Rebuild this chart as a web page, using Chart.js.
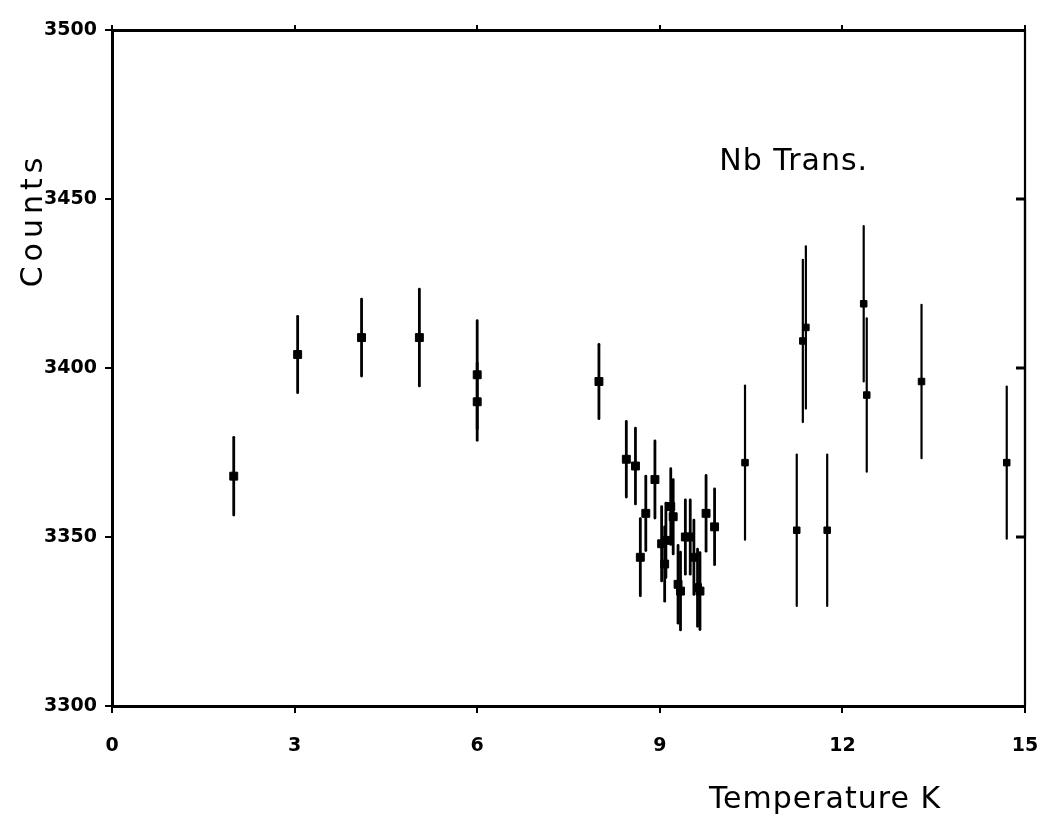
<!DOCTYPE html>
<html>
<head>
<meta charset="utf-8">
<script src="https://cdn.jsdelivr.net/npm/chart.js@4.4.1/dist/chart.umd.min.js"></script>
<style>
  html, body { margin: 0; background: #fff; }
  canvas { display: block; }
</style>
</head>
<body>
<canvas id="chart" width="1043" height="820"></canvas>
<script>
// ─── Data ────────────────────────────────────────────────
const temps  = [2.0, 3.05, 4.1, 5.05, 6.0, 6.0, 8.0, 8.45, 8.6, 8.68, 8.77, 8.92, 9.03, 9.08, 9.1, 9.18, 9.22,
                9.3, 9.34, 9.42, 9.5, 9.56, 9.62, 9.66, 9.76, 9.9, 10.4, 11.25, 11.35, 11.4, 11.75, 12.35, 12.4,
                13.3, 14.7];
const counts = [3368, 3404, 3409, 3409, 3398, 3390, 3396, 3373, 3371, 3344, 3357, 3367, 3348, 3342, 3349, 3359, 3356,
                3336, 3334, 3350, 3350, 3344, 3335, 3334, 3357, 3353, 3372, 3352, 3408, 3412, 3352, 3419, 3392,
                3396, 3372];
const errs   = [11.5, 11.3, 11.4, 14.3, 16, 11.4, 11, 11.2, 11.2, 11.4, 11, 11.4, 11, 11, 11, 11.2, 11,
                11.5, 11.5, 11, 11, 11, 11.4, 11.4, 11.2, 11.2, 22.8, 22.4, 24, 24, 22.4, 23, 22.7,
                22.7, 22.5];

// error-size reference bars drawn at the right edge
const refTemps  = [15, 15, 15];
const refCounts = [3450, 3400, 3350];
const refErrs   = [50, 50, 50];

const xTicks = [0, 3, 6, 9, 12, 15];
const yTicks = [3300, 3350, 3400, 3450, 3500];

const FONT = "'DejaVu Sans', sans-serif";

// ─── Plugins ─────────────────────────────────────────────
const errorBars = {
  id: "errorBars",
  beforeDatasetsDraw(chart) {
    const { ctx, scales: { x, y } } = chart;
    ctx.save();
    ctx.strokeStyle = "#000";
    ctx.lineCap = "round";
    chart.data.datasets.forEach(ds => {
      ds.data.forEach((p, i) => {
        const px = x.getPixelForValue(p.x);
        ctx.lineWidth = p.x < 10 ? 2.8 : 2.2;
        ctx.beginPath();
        ctx.moveTo(px, y.getPixelForValue(p.y - ds.errs[i]));
        ctx.lineTo(px, y.getPixelForValue(p.y + ds.errs[i]));
        ctx.stroke();
      });
    });
    ctx.restore();
  }
};

const labels = {
  id: "labels",
  afterDraw(chart) {
    const { ctx, scales: { x, y } } = chart;
    ctx.save();
    ctx.fillStyle = "#000";
    ctx.textAlign = "center";
    ctx.textBaseline = "middle";
    ctx.font = `30px ${FONT}`;
    ctx.letterSpacing = "1px";
    ctx.fillText("Nb Trans.", x.getPixelForValue(11.2), y.getPixelForValue(3461));
    ctx.fillText("Temperature K", 825, 800);
    ctx.translate(34, 220);
    ctx.rotate(-Math.PI / 2);
    ctx.letterSpacing = "5px";
    ctx.fillText("Counts", 0, 0);
    ctx.restore();
  }
};

// ─── Chart ───────────────────────────────────────────────
const tickFont = { family: FONT, size: 19, weight: "bold" };
const axisGrid = { drawOnChartArea: false, tickLength: 7, color: "#000", lineWidth: 2 };
const axisBorder = { color: "#000", width: 3 };

// keep the plot frame where the scan has it: no extra label overhang padding
function fixHoriz(h) {
  return s => { s.height = h; s.paddingLeft = 0; s.paddingRight = 0; };
}

new Chart(document.getElementById("chart"), {
  type: "scatter",
  data: {
    datasets: [
      {
        data: temps.map((t, i) => ({ x: t, y: counts[i] })),
        errs: errs,
        pointStyle: "rect",
        pointRadius: c => (c.raw && c.raw.x < 10 ? 5.6 : 4.6),
        backgroundColor: "#000",
        borderColor: "#000",
        borderWidth: 1,
      },
      {
        data: refTemps.map((t, i) => ({ x: t, y: refCounts[i] })),
        errs: refErrs,
        pointStyle: "line",
        pointRadius: 9,
        borderColor: "#000",
        borderWidth: 3,
      }
    ]
  },
  options: {
    responsive: false,
    animation: false,
    layout: { padding: { left: 0, right: 18, top: 0, bottom: 0 } },
    plugins: { legend: { display: false }, tooltip: { enabled: false } },
    scales: {
      x: {
        type: "linear", position: "bottom", min: 0, max: 15,
        afterBuildTicks: s => { s.ticks = xTicks.map(v => ({ value: v })); },
        afterFit: fixHoriz(114),
        ticks: { color: "#000", font: tickFont, padding: 22, callback: v => String(v) },
        grid: axisGrid,
        border: axisBorder,
      },
      x2: {
        type: "linear", position: "top", min: 0, max: 15,
        afterBuildTicks: s => { s.ticks = xTicks.map(v => ({ value: v })); },
        afterFit: fixHoriz(30),
        ticks: { display: false },
        grid: { drawOnChartArea: false, tickLength: 5, color: "#000", lineWidth: 2 },
        border: axisBorder,
      },
      y: {
        type: "linear", position: "left", min: 3300, max: 3500,
        afterBuildTicks: s => { s.ticks = yTicks.map(v => ({ value: v })); },
        afterFit: s => { s.width = 112; s.paddingTop = 0; s.paddingBottom = 0; },
        ticks: { color: "#000", font: tickFont, padding: 8, callback: v => String(v) },
        grid: axisGrid,
        border: axisBorder,
      }
    }
  },
  plugins: [errorBars, labels]
});
</script>
</body>
</html>
